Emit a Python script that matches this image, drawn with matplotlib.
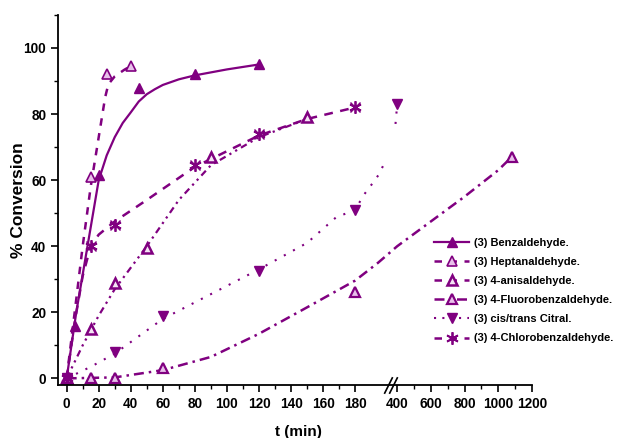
import matplotlib
matplotlib.use("Agg")
import matplotlib.pyplot as plt
import matplotlib.transforms as mtransforms
import numpy as np

plt.rcParams['font.family'] = ['Liberation Sans', 'DejaVu Sans']
plt.rcParams['font.weight'] = 'bold'

# measured points
benz_t = [0, 5, 20, 45, 80, 120]
benz_c = [0, 16, 61.5, 88, 92, 95]
hept_t = [0, 15, 25, 40]
hept_c = [0, 61, 92, 94.5]
anis_t = [0, 15, 30, 50, 90, 150]
anis_c = [0, 15, 29, 39.5, 67, 79]
fluo_t = [0, 15, 30, 60, 180, 1080]
fluo_c = [0, 0, 0, 3, 26, 67]
citr_t = [0, 30, 60, 120, 180, 400]
citr_c = [0, 8, 19, 32.5, 51, 83]
chlo_t = [0, 15, 30, 80, 120, 180]
chlo_c = [0, 40, 46.5, 64.5, 74, 82]

# fitted curves
benz_ft = [0, 6, 13, 20, 25, 30, 35, 40, 45, 50, 55, 60, 70, 80, 100, 120]
benz_fc = [0, 20, 40, 60, 67.5, 73, 77.3, 80.5, 83.8, 86, 87.5, 88.8, 90.5, 91.7, 93.5, 95]
hept_ft = [0, 5, 10, 15, 19, 22, 24, 26, 30, 36, 40]
hept_fc = [0, 20, 40, 58, 70, 79, 85, 89, 91.4, 93.4, 94.5]
anis_ft = [0, 10, 20, 30, 50, 70, 90, 120, 150]
anis_fc = [0, 10, 19, 27, 40, 54, 64.5, 73, 78.5]
fluo_ft = [0, 30, 60, 90, 120, 150, 180, 300, 400, 600, 800, 1000, 1080]
fluo_fc = [0, 0.3, 2.5, 6.5, 13.5, 21.5, 29.6, 35, 40, 47.5, 55, 63, 67]
citr_ft = [0, 15, 30, 60, 90, 120, 150, 168, 180, 225, 264, 304, 330, np.nan, 391, 400]
citr_fc = [0, 3.5, 7.5, 18, 25.5, 33, 41, 48.7, 51, 55.5, 58.5, 61.7, 64.8, np.nan, 77, 83]
chlo_ft = [0, 5, 10, 15, 20, 30, 50, 80, 120, 150, 180]
chlo_fc = [0, 17, 31, 40, 43.5, 47.5, 54, 64, 73.5, 78.5, 82]

labels = ['(3) Benzaldehyde.', '(3) Heptanaldehyde.', '(3) 4-anisaldehyde.',
          '(3) 4-Fluorobenzaldehyde.', '(3) cis/trans Citral.', '(3) 4-Chlorobenzaldehyde.']

major_x = [0, 20, 40, 60, 80, 100, 120, 140, 160, 180, 400, 600, 800, 1000, 1200]
minor_x = [10, 30, 50, 70, 90, 110, 130, 150, 170, 500, 700, 900, 1100]


# broken time axis: 0-180 linear, 180-400 squeezed, 400-1200 compressed
def fwd(x):
    x = np.asarray(x, dtype=float)
    return np.where(x <= 180, x,
                    np.where(x <= 400, 180 + (x - 180) * 26.25 / 220,
                             206.25 + (x - 400) * 0.105))


def inv(u):
    u = np.asarray(u, dtype=float)
    return np.where(u <= 180, u,
                    np.where(u <= 206.25, 180 + (u - 180) * 220 / 26.25,
                             400 + (u - 206.25) / 0.105))


purple = '#800080'
light = '#E8C0EA'

fig = plt.figure(figsize=(6.17, 4.38), dpi=100)
ax = fig.add_axes([0.094, 0.121, 0.768, 0.845])
ax.set_xscale('function', functions=(fwd, inv))

ax.plot(benz_ft, benz_fc, color=purple, lw=1.6, ls='-')
ax.plot(hept_ft, hept_fc, color=purple, lw=1.8, ls=(0, (3, 3)))
ax.plot(anis_ft, anis_fc, color=purple, lw=1.6, ls=(0, (3, 2, 1, 2, 1, 2)))
ax.plot(fluo_ft, fluo_fc, color=purple, lw=1.8, ls=(0, (4, 2, 1, 2)))
ax.plot(citr_ft, citr_fc, color=purple, lw=1.5, ls=(0, (1, 4)))
ax.plot(chlo_ft, chlo_fc, color=purple, lw=1.8, ls=(0, (3.5, 3)))

ax.plot(benz_t, benz_c, ls='none', marker='^', ms=7, color=purple)
ax.plot(hept_t, hept_c, ls='none', marker='^', ms=7, mfc=light, mec=purple, mew=1.2)
ax.plot(anis_t, anis_c, ls='none', marker='^', ms=7, mfc='#F4E4F4', mec=purple, mew=1.8)
ax.plot(fluo_t, fluo_c, ls='none', marker='^', ms=7, mfc=light, mec=purple, mew=1.6)
ax.plot(citr_t, citr_c, ls='none', marker='v', ms=7, color=purple)
ax.plot(chlo_t, chlo_c, ls='none', marker=(6, 2, 0), ms=9, mec=purple, mew=1.3)
ax.plot(chlo_t, chlo_c, ls='none', marker='x', ms=7, mec=purple, mew=1.0)

# legend handles
h = []
h.append(ax.plot([], [], color=purple, lw=1.6, marker='^', ms=7)[0])
h.append(ax.plot([], [], color=purple, lw=1.8, ls=(0, (3, 3)), marker='^', ms=7,
                 mfc=light, mec=purple, mew=1.2)[0])
h.append(ax.plot([], [], color=purple, lw=1.8, ls=(0, (3, 3)), marker='^', ms=7,
                 mfc='#F4E4F4', mec=purple, mew=1.8)[0])
h.append(ax.plot([], [], color=purple, lw=1.8, ls=(0, (4, 2, 1, 2)), marker='^', ms=7,
                 mfc=light, mec=purple, mew=1.6)[0])
h.append(ax.plot([], [], color=purple, lw=1.5, ls=(0, (1, 3)), marker='v', ms=7)[0])
h.append(ax.plot([], [], color=purple, lw=1.8, ls=(0, (3, 3)), marker=(6, 2, 0), ms=9,
                 mew=1.3)[0])
fig.legend(h, labels, loc='upper left', bbox_to_anchor=(0.703, 0.457), frameon=False,
           fontsize=8, handlelength=3.2, handletextpad=0.4, labelspacing=0.82,
           borderpad=0, borderaxespad=0, numpoints=1)

ax.set_xlim(-5.4, 1200)
ax.set_ylim(-2, 110)
ax.set_xticks(major_x)
ax.set_xticks(minor_x, minor=True)
ax.set_xticklabels([str(v) for v in major_x])
ax.set_yticks([0, 20, 40, 60, 80, 100])
ax.set_yticks([10, 30, 50, 70, 90, 110], minor=True)
ax.tick_params(which='major', length=5, width=1.2, labelsize=9.8, direction='out')
ax.tick_params(which='minor', length=3, width=1.0, direction='out')
for lab in ax.get_xticklabels() + ax.get_yticklabels():
    lab.set_fontweight('bold')
ax.spines['top'].set_visible(False)
ax.spines['right'].set_visible(False)
ax.spines['left'].set_linewidth(1.3)
ax.spines['bottom'].set_linewidth(1.3)

ax.set_xlabel('t (min)', fontsize=11, fontweight='bold')
ax.set_ylabel('% Conversion', fontsize=12.5, fontweight='bold')
ax.xaxis.set_label_coords(0.507, -0.108)
ax.yaxis.set_label_coords(-0.068, 0.5)

# break marks on the time axis
trans = mtransforms.blended_transform_factory(ax.transData, ax.transAxes)
slash = [(-0.5, -1), (0.5, 1)]
ax.plot([352, 378], [0, 0], transform=trans, ls='none', marker=slash, ms=12,
        mec='black', mew=1.2, clip_on=False)

fig.savefig('out.png', dpi=100)
